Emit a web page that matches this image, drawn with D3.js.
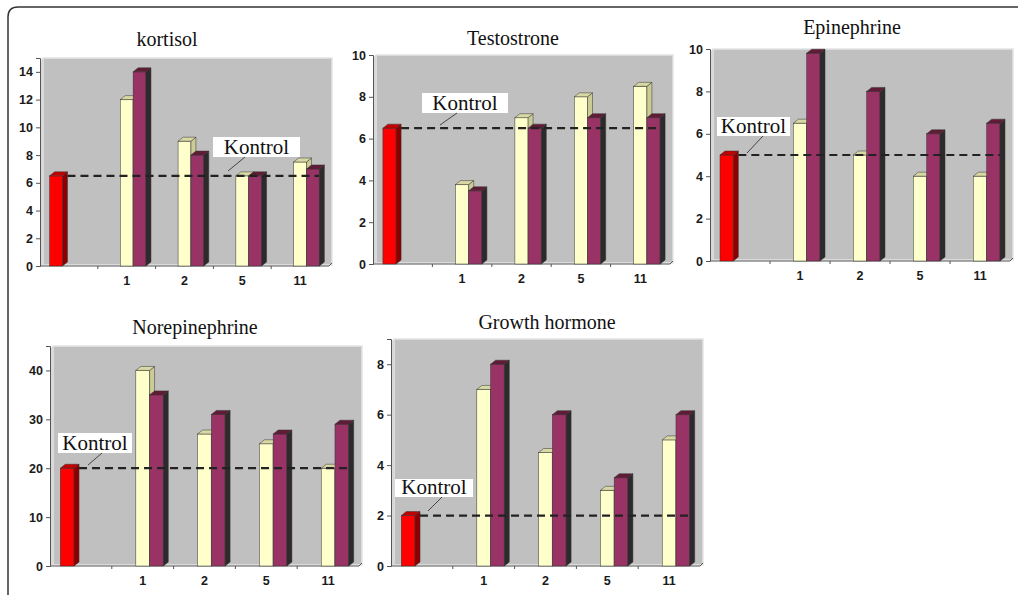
<!DOCTYPE html>
<html>
<head>
<meta charset="utf-8">
<script src="https://cdn.jsdelivr.net/npm/d3@7"></script>
<style>
  body { margin: 0; background: #fff; }
  svg { display: block; }
</style>
</head>
<body>
<svg id="chart" width="1018" height="595"></svg>
<script>
// ---- data ----
const categories = ["", "1", "2", "5", "11"];   // first slot holds the control bar
const seriesKeys = ["control", "a", "b"];

const kortisolControl = 6.5;
const kortisolA = [12, 9, 6.5, 7.5];
const kortisolB = [14, 8, 6.5, 7];

const testoControl = 6.5;
const testoA = [3.8, 7, 8, 8.5];
const testoB = [3.5, 6.5, 7, 7];

const epiControl = 5;
const epiA = [6.5, 5, 4, 4];
const epiB = [9.8, 8, 6, 6.5];

const norepiControl = 20;
const norepiA = [40, 27, 25, 20];
const norepiB = [35, 31, 27, 29];

const ghControl = 2;
const ghA = [7, 4.5, 3, 5];
const ghB = [8, 6, 3.5, 6];

const kortisolTicks = [0, 2, 4, 6, 8, 10, 12, 14];
const testoTicks = [0, 2, 4, 6, 8, 10];
const epiTicks = [0, 2, 4, 6, 8, 10];
const norepiTicks = [0, 10, 20, 30, 40];
const ghTicks = [0, 2, 4, 6, 8];

// ---- layout ----
const panels = [
  { title: "kortisol", control: kortisolControl, a: kortisolA, b: kortisolB, ticks: kortisolTicks, max: 15,
    x0: 40, x1: 332, yTop: 58, yBottom: 266, titleX: 167, titleY: 46,
    box: [213, 137, 87, 20], leader: [228, 171, 245, 157] },
  { title: "Testostrone", control: testoControl, a: testoA, b: testoB, ticks: testoTicks, max: 10,
    x0: 373, x1: 673, yTop: 55, yBottom: 264, titleX: 513, titleY: 45,
    box: [422, 93, 86, 20], leader: [440, 125, 457, 113] },
  { title: "Epinephrine", control: epiControl, a: epiA, b: epiB, ticks: epiTicks, max: 10,
    x0: 710, x1: 1013, yTop: 49, yBottom: 261, titleX: 852, titleY: 34,
    box: [717, 117, 73, 19], leader: [747, 153, 763, 136] },
  { title: "Norepinephrine", control: norepiControl, a: norepiA, b: norepiB, ticks: norepiTicks, max: 45,
    x0: 50, x1: 362, yTop: 346, yBottom: 566, titleX: 195, titleY: 334,
    box: [58, 433, 74, 20], leader: [88, 465, 102, 453] },
  { title: "Growth hormone", control: ghControl, a: ghA, b: ghB, ticks: ghTicks, max: 9,
    x0: 391, x1: 703, yTop: 339, yBottom: 566, titleX: 547, titleY: 329,
    box: [395, 479, 78, 18], leader: [428, 511, 442, 497] }
];

const colors = {
  control: { front: "#ff0000", side: "#8e0000", top: "#c40000" },
  a:       { front: "#ffffcc", side: "#cbcb96", top: "#d8d8a4" },
  b:       { front: "#993366", side: "#2e2a2c", top: "#611b36" }
};
const dx = 5, dy = 4;

const svg = d3.select("#chart");

// outer frame (rounded top-left corner, open to right/bottom)
svg.append("path")
  .attr("d", "M8,595 V17 Q8,7 18,7 H1018")
  .attr("fill", "none")
  .attr("stroke", "#333")
  .attr("stroke-width", 1.5);

function bar3d(g, x, w, yv, yb, c) {
  g.append("rect")
    .attr("x", x).attr("y", yv).attr("width", w).attr("height", yb - yv)
    .attr("fill", c.front).attr("stroke", "#333").attr("stroke-width", 0.5);
  g.append("polygon")
    .attr("points", [[x + w, yv], [x + w + dx, yv - dy], [x + w + dx, yb - dy], [x + w, yb]].join(" "))
    .attr("fill", c.side).attr("stroke", "#333").attr("stroke-width", 0.5);
  g.append("polygon")
    .attr("points", [[x, yv], [x + dx, yv - dy], [x + w + dx, yv - dy], [x + w, yv]].join(" "))
    .attr("fill", c.top).attr("stroke", "#333").attr("stroke-width", 0.5);
}

panels.forEach(p => {
  const g = svg.append("g");

  const x = d3.scaleBand().domain(categories).range([p.x0, p.x1 - 3]);
  const inner = d3.scaleBand().domain(seriesKeys).range([0, x.bandwidth()]).paddingOuter(0.75);
  const y = d3.scaleLinear().domain([0, p.max]).range([p.yBottom, p.yTop]);

  // back wall
  g.append("rect")
    .attr("x", p.x0 + 3).attr("y", p.yTop)
    .attr("width", p.x1 - p.x0 - 3).attr("height", p.yBottom - p.yTop - 1)
    .attr("fill", "#c0c0c0").attr("stroke", "#e4e4e4").attr("stroke-width", 1.5);
  // side wall strip
  g.append("polygon")
    .attr("points", [[p.x0, p.yTop + 3], [p.x0 + 3, p.yTop], [p.x0 + 3, p.yBottom - 1], [p.x0, p.yBottom]].join(" "))
    .attr("fill", "#d8d8d8");

  // y axis
  const yAxis = g.append("g")
    .attr("transform", `translate(${p.x0},0)`)
    .call(d3.axisLeft(y).tickValues(p.ticks).tickSize(4).tickPadding(3));
  yAxis.select(".domain").attr("stroke", "#555");
  yAxis.selectAll(".tick line").attr("stroke", "#555");
  yAxis.selectAll("text")
    .attr("font-family", "Liberation Sans, Arial, sans-serif")
    .attr("font-weight", "bold").attr("font-size", 12.5).attr("fill", "#1a1a1a");

  // x axis (floor line + ticks between categories)
  g.append("line")
    .attr("x1", p.x0).attr("x2", p.x1 - 3)
    .attr("y1", p.yBottom).attr("y2", p.yBottom)
    .attr("stroke", "#555").attr("stroke-width", 1);
  g.append("line")
    .attr("x1", p.x1 - 3).attr("x2", p.x1)
    .attr("y1", p.yBottom).attr("y2", p.yBottom - 3)
    .attr("stroke", "#555").attr("stroke-width", 1);
  g.selectAll(".xtick").data(categories.slice(1))
    .join("line")
    .attr("x1", d => x(d)).attr("x2", d => x(d))
    .attr("y1", p.yBottom).attr("y2", p.yBottom + 3)
    .attr("stroke", "#555");
  g.selectAll(".xlabel").data(categories.slice(1))
    .join("text")
    .attr("x", d => x(d) + x.bandwidth() / 2)
    .attr("y", p.yBottom + 19)
    .attr("text-anchor", "middle")
    .attr("font-family", "Liberation Sans, Arial, sans-serif")
    .attr("font-weight", "bold").attr("font-size", 12.5).attr("fill", "#1a1a1a")
    .text(d => d);

  // bars
  const bw = inner.bandwidth();
  bar3d(g, x(categories[0]) + inner("control"), bw, y(p.control), y(0), colors.control);
  categories.slice(1).forEach((c, i) => {
    bar3d(g, x(c) + inner("a"), bw, y(p.a[i]), y(0), colors.a);
    bar3d(g, x(c) + inner("b"), bw, y(p.b[i]), y(0), colors.b);
  });

  // control dashed line
  g.append("line")
    .attr("x1", x(categories[0]) + inner("control") + bw + dx)
    .attr("x2", p.x1 - 13)
    .attr("y1", y(p.control)).attr("y2", y(p.control))
    .attr("stroke", "#222").attr("stroke-width", 2.2)
    .attr("stroke-dasharray", "8,5");

  // Kontrol label
  const [bx, by, bwid, bh] = p.box;
  g.append("rect")
    .attr("x", bx).attr("y", by).attr("width", bwid).attr("height", bh)
    .attr("fill", "#fff");
  g.append("text")
    .attr("x", bx + bwid / 2).attr("y", by + bh - 3)
    .attr("text-anchor", "middle")
    .attr("font-family", "Liberation Serif, Times New Roman, serif")
    .attr("font-size", 21).attr("fill", "#111")
    .text("Kontrol");
  const [lx1, ly1, lx2, ly2] = p.leader;
  g.append("line")
    .attr("x1", lx1).attr("y1", ly1).attr("x2", lx2).attr("y2", ly2)
    .attr("stroke", "#444").attr("stroke-width", 1);

  // title
  g.append("text")
    .attr("x", p.titleX).attr("y", p.titleY)
    .attr("text-anchor", "middle")
    .attr("font-family", "Liberation Serif, Times New Roman, serif")
    .attr("font-size", 20).attr("fill", "#111")
    .text(p.title);
});
</script>
</body>
</html>
